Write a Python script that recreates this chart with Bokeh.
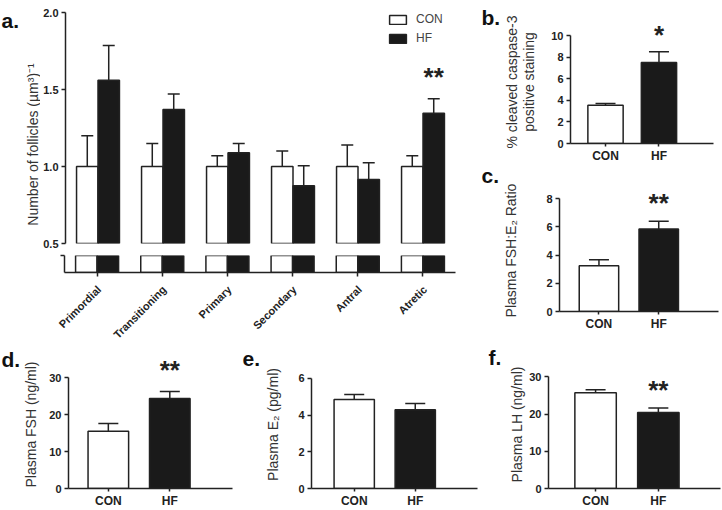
from math import pi
from bokeh.plotting import figure
from bokeh.models import (ColumnDataSource, Whisker, TeeHead, LabelSet,
                          FixedTicker, Range1d, Legend, LegendItem)
from bokeh.layouts import row, column
from bokeh.embed import file_html
from bokeh.resources import INLINE
from bokeh.core.properties import value

# ---------------- data ----------------
groups = ["CON", "HF"]
group_fill = ["white", "#1a1a1a"]

follicle_types = ["Primordial", "Transitioning", "Primary", "Secondary", "Antral", "Atretic"]
follicles_con = [1.0, 1.0, 1.0, 1.0, 1.0, 1.0]
follicles_con_err = [0.20, 0.15, 0.07, 0.10, 0.14, 0.07]
follicles_hf = [1.56, 1.37, 1.09, 0.875, 0.915, 1.345]
follicles_hf_err = [0.225, 0.10, 0.06, 0.13, 0.11, 0.095]
follicles_sig = ["", "", "", "", "", "**"]
follicle_ticks = [0.5, 1.0, 1.5, 2.0]

caspase = [3.55, 7.5]
caspase_err = [0.15, 1.0]
caspase_sig = ["", "*"]
caspase_ticks = [0, 2, 4, 6, 8, 10]

fsh_e2 = [3.25, 5.85]
fsh_e2_err = [0.42, 0.55]
fsh_e2_sig = ["", "**"]
fsh_e2_ticks = [0, 2, 4, 6, 8]

fsh = [15.5, 24.4]
fsh_err = [2.1, 1.9]
fsh_sig = ["", "**"]
fsh_ticks = [0, 10, 20, 30]

e2 = [4.85, 4.29]
e2_err = [0.27, 0.34]
e2_sig = ["", ""]
e2_ticks = [0, 2, 4, 6]

lh = [25.7, 20.4]
lh_err = [0.8, 1.2]
lh_sig = ["", "**"]
lh_ticks = [0, 10, 20, 30]

# ---------------- helpers ----------------
INK = "#222222"
FONT = "Liberation Sans"


def iso(p):
    """Wrap a figure on its own so that layouts do not re-align its borders."""
    return row(p)


def make_fig(box, frame, xr, yr, axes=True):
    bx0, by0, bx1, by1 = box
    fx0, fy0, fx1, fy1 = frame
    kw = {} if axes else dict(x_axis_location=None, y_axis_location=None)
    p = figure(width=round(bx1 - bx0), height=round(by1 - by0),
               x_range=xr, y_range=yr, min_border=0,
               min_border_left=round(fx0 - bx0), min_border_right=round(bx1 - fx1),
               min_border_top=round(fy0 - by0), min_border_bottom=round(by1 - fy1),
               toolbar_location=None, output_backend="svg", **kw)
    p.outline_line_color = None
    p.grid.visible = False
    for ax in p.axis:
        ax.axis_line_color = INK
        ax.axis_line_width = 1.5
        ax.major_tick_line_color = INK
        ax.major_tick_line_width = 1.5
        ax.major_tick_in = 0
        ax.major_tick_out = 4
        ax.minor_tick_line_color = None
        ax.major_label_text_font = FONT
        ax.major_label_text_font_style = "bold"
        ax.major_label_text_font_size = "11px"
        ax.major_label_text_color = INK
        ax.major_label_standoff = 3
        ax.axis_label_text_font = FONT
        ax.axis_label_text_font_style = "normal"
        ax.axis_label_text_font_size = "14px"
        ax.axis_label_text_color = "#333333"
    return p


def text_strip(box):
    """A plain area (no axes) whose frame covers the whole box, for free texts."""
    bx0, by0, bx1, by1 = box
    w, h = round(bx1 - bx0), round(by1 - by0)
    return make_fig(box, box, Range1d(0, w), Range1d(0, h), axes=False)


def letters(p, box, items):
    bx0, by0, bx1, by1 = box
    h = by1 - by0
    p.text(x=[x - bx0 for _, x, _ in items], y=[h - (y - by0) for _, _, y in items],
           text=[t for t, _, _ in items], text_font=value(FONT),
           text_font_style="bold", text_font_size="21px", text_color="#111111",
           text_align="left", text_baseline="alphabetic")


def two_bar_panel(box, axis_frame, frame_top, xr, vals, errs, sig, ticks, ylabel,
                  standoff, star_offset=9):
    fx0, ftick, fx1, fy1 = axis_frame
    top_tick = ticks[-1]
    y_end = top_tick + (ftick - frame_top) * (top_tick - ticks[0]) / (fy1 - ftick)
    pos = list(range(1, len(groups) + 1))
    p = make_fig(box, (fx0, frame_top, fx1, fy1), Range1d(*xr), Range1d(ticks[0], y_end))
    src = ColumnDataSource(dict(x=pos, top=vals, upper=[v + e for v, e in zip(vals, errs)],
                                fill=group_fill, sig=sig))
    p.vbar(x="x", top="top", bottom=0, width=0.66, fill_color="fill",
           line_color=INK, line_width=1.5, source=src)
    p.add_layout(Whisker(source=src, base="x", lower="top", upper="upper",
                         line_color=INK, line_width=1.5, lower_head=None,
                         upper_head=TeeHead(size=20, line_color=INK, line_width=1.5)))
    p.add_layout(LabelSet(source=src, x="x", y="upper", text="sig", y_offset=star_offset,
                          text_align="center", text_baseline="alphabetic",
                          text_font=value(FONT), text_font_style="bold",
                          text_font_size="26px", text_color=INK))
    p.xaxis.ticker = FixedTicker(ticks=pos)
    p.xaxis.major_label_overrides = {x: g for x, g in zip(pos, groups)}
    p.xaxis.major_label_text_font_size = "12px"
    p.xaxis.major_tick_out = 3
    p.xaxis.major_label_standoff = 2
    p.yaxis.ticker = FixedTicker(ticks=ticks)
    p.yaxis.bounds = (ticks[0], top_tick)
    p.yaxis.axis_label = ylabel
    p.yaxis.axis_label_standoff = standoff
    return p


# ---------------- panel a (broken axis) ----------------
A_LEFT, A_RIGHT = 64, 455
xa = list(range(len(follicle_types)))
x_con = [x - 0.165 for x in xa]
x_hf = [x + 0.165 for x in xa]
unit_a = (A_RIGHT - A_LEFT) / len(xa)

src_con = ColumnDataSource(dict(x=x_con, top=follicles_con,
                                upper=[v + e for v, e in zip(follicles_con, follicles_con_err)]))
src_hf = ColumnDataSource(dict(x=x_hf, top=follicles_hf,
                               upper=[v + e for v, e in zip(follicles_hf, follicles_hf_err)],
                               sig=follicles_sig))

pa = make_fig((40, 0, 470, 249), (A_LEFT, 12, A_RIGHT, 243), Range1d(-0.5, 5.5),
              Range1d(follicle_ticks[0], follicle_ticks[-1]))
r_con = pa.vbar(x="x", top="top", bottom=0, width=0.33, fill_color=group_fill[0],
                line_color=INK, line_width=1.5, source=src_con)
r_hf = pa.vbar(x="x", top="top", bottom=0, width=0.33, fill_color=group_fill[1],
               line_color=INK, line_width=1.5, source=src_hf)
for s in (src_con, src_hf):
    pa.add_layout(Whisker(source=s, base="x", lower="top", upper="upper",
                          line_color=INK, line_width=1.5, lower_head=None,
                          upper_head=TeeHead(size=12, line_color=INK, line_width=1.5)))
pa.add_layout(LabelSet(source=src_hf, x="x", y="upper", text="sig", y_offset=13,
                       text_align="center", text_baseline="alphabetic",
                       text_font=value(FONT), text_font_style="bold",
                       text_font_size="26px", text_color=INK))
pa.xaxis.visible = False
pa.yaxis.ticker = FixedTicker(ticks=follicle_ticks)
pa.yaxis.major_label_overrides = {t: f"{t:.1f}" for t in follicle_ticks}
legend = Legend(items=[LegendItem(label=groups[0], renderers=[r_con]),
                       LegendItem(label=groups[1], renderers=[r_hf])],
                location=(386 - A_LEFT, 243 - 45),
                glyph_width=21, glyph_height=11, label_standoff=8, spacing=5,
                padding=0, margin=0, border_line_color=None, background_fill_alpha=0,
                label_text_font=FONT, label_text_font_size="12px", label_text_color="#444444")
pa.add_layout(legend)

pa2 = make_fig((40, 249, 470, 278), (A_LEFT, 255, A_RIGHT, 272), pa.x_range, Range1d(0, 0.1))
pa2.vbar(x="x", top="top", bottom=0, width=0.33, fill_color=group_fill[0],
         line_color=INK, line_width=1.5, source=src_con)
pa2.vbar(x="x", top="top", bottom=0, width=0.33, fill_color=group_fill[1],
         line_color=INK, line_width=1.5, source=src_hf)
pa2.yaxis.ticker = FixedTicker(ticks=[0.1])
pa2.yaxis.major_label_overrides = {0.1: ""}
pa2.xaxis.ticker = FixedTicker(ticks=xa)
pa2.xaxis.major_label_overrides = {x: "" for x in xa}
pa2.xaxis.major_label_text_font_size = "1px"
pa2.xaxis.major_label_standoff = 0

# category names, rotated, on the same x scale as panel a
LBL_LEFT = 24
pa3 = make_fig((0, 278, 470, 340), (LBL_LEFT, 278, A_RIGHT, 340),
               Range1d(-0.5 - (A_LEFT - LBL_LEFT) / unit_a, 5.5), Range1d(0, 62), axes=False)
pa3.text(x=xa, y=[53] * len(xa), text=follicle_types, angle=pi / 4, x_offset=2,
         text_align="right", text_baseline="middle", text_font=value(FONT),
         text_font_style="bold", text_font_size="11px", text_color=INK)

# left gutter of panel a: panel letter + rotated y-axis title
ga_box = (0, 0, 40, 278)
ga = text_strip(ga_box)
letters(ga, ga_box, [("a.", 1, 20)])
ga.text(x=[32], y=[278 - 144], text=["Number of follicles (µm³)⁻¹"], angle=pi / 2,
        text_align="center", text_baseline="middle", text_font=value(FONT),
        text_font_size="14px", text_color="#333333")

# gutter with letters b. and c.
gbc_box = (470, 0, 500, 340)
gbc = text_strip(gbc_box)
letters(gbc, gbc_box, [("b.", 481, 17), ("c.", 481, 175)])

# ---------------- panels b - f ----------------
pb = two_bar_panel((500, 0, 722, 172), (556.7, 35, 713, 142.7), 20, (0.345, 3.02),
                   caspase, caspase_err, caspase_sig, caspase_ticks,
                   "% cleaved caspase-3\npositive staining", 11, 8)
pb.yaxis.axis_label_text_line_height = 1.1
pc = two_bar_panel((500, 172, 722, 340), (551.7, 198.3, 718, 311), 189, (0.34, 3.0),
                   fsh_e2, fsh_e2_err, fsh_e2_sig, fsh_e2_ticks,
                   "Plasma FSH:E₂ Ratio", 24, 9)

gd_box, ge_box, gf_box = (0, 340, 20, 510), (240, 340, 262, 510), (480, 340, 506, 510)
gd, ge, gf = text_strip(gd_box), text_strip(ge_box), text_strip(gf_box)
letters(gd, gd_box, [("d.", 1, 359)])
letters(ge, ge_box, [("e.", 242, 358)])
letters(gf, gf_box, [("f.", 488, 357)])

pd = two_bar_panel((20, 340, 240, 510), (65, 377.7, 231.7, 491), 360, (0.352, 3.02),
                   fsh, fsh_err, fsh_sig, fsh_ticks, "Plasma FSH (ng/ml)", 7, 12)
pe = two_bar_panel((262, 340, 480, 510), (306.7, 378.3, 476.7, 491), 360, (0.30, 3.02),
                   e2, e2_err, e2_sig, e2_ticks, "Plasma E₂ (pg/ml)", 14)
pf = two_bar_panel((506, 340, 722, 510), (546.7, 376.7, 720, 491), 360, (0.25, 2.99),
                   lh, lh_err, lh_sig, lh_ticks, "Plasma LH (ng/ml)", 1, 9)

left_top = column(row(iso(ga), column(iso(pa), iso(pa2))), iso(pa3))
right_top = column(iso(pb), iso(pc))
layout = column(
    row(left_top, iso(gbc), right_top),
    row(iso(gd), iso(pd), iso(ge), iso(pe), iso(gf), iso(pf)),
)

open("out.html", "w").write(file_html(layout, INLINE))
